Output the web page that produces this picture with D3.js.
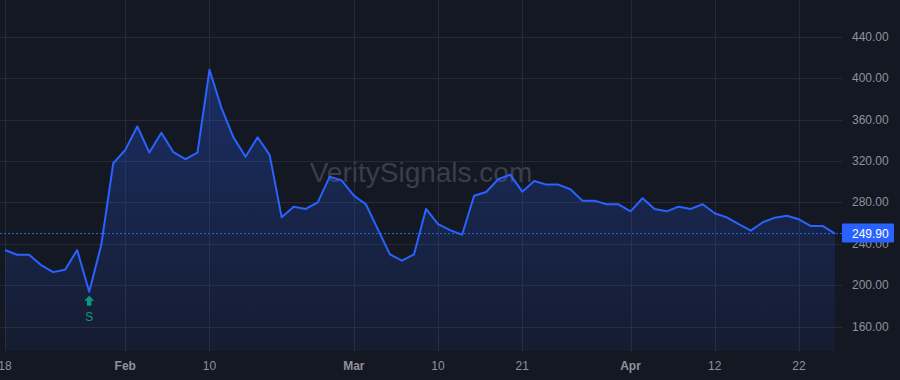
<!DOCTYPE html>
<html>
<head>
<meta charset="utf-8">
<script src="https://cdn.jsdelivr.net/npm/d3@7"></script>
<style>
  html, body { margin: 0; padding: 0; background: #141823; }
  svg { display: block; font-family: "Liberation Sans", Arial, sans-serif; }
  .tick-label { fill: #8f929b; font-size: 12px; }
  .month { font-weight: bold; }
</style>
</head>
<body>
<div id="chart"></div>
<script>
// Closing prices, one per trading day
var prices = [
  234.0, 229.5, 229.5, 219.5, 212.7, 215.0, 234.0, 193.7, 238.8, 317.8,
  330.7, 353.3, 328.1, 347.2, 328.5, 321.7, 328.1, 408.1, 371.0, 342.6,
  324.0, 342.9, 325.9, 265.6, 275.9, 273.7, 280.1, 304.9, 301.0, 286.5,
  278.2, 254.0, 229.8, 223.7, 229.8, 273.7, 259.1, 253.3, 248.8, 286.5,
  290.1, 302.4, 306.8, 290.4, 300.7, 297.2, 297.2, 292.7, 281.7, 281.7,
  278.2, 278.2, 271.4, 284.0, 273.7, 271.4, 275.9, 273.7, 278.2, 269.5,
  265.6, 259.1, 252.7, 260.8, 265.3, 267.2, 263.7, 257.2, 257.2, 249.9
]

// Bottom axis: bar index of each label and its text
var xTickIndex  = [0, 10, 17, 29, 36, 43, 52, 59, 66]
var xTickLabels = ["18", "Feb", "10", "Mar", "10", "21", "Apr", "12", "22"]
var monthLabels = ["Feb", "Mar", "Apr"]

// Right axis
var yTicks = [160, 200, 240, 280, 320, 360, 400, 440]

var lastPrice   = 249.90
var signalIndex = 7    // bar carrying the "S" marker

var width  = 900,
    height = 380,
    plotW  = 842, // right edge of the plot area
    plotH  = 351  // bottom edge of the plot area

var svg = d3.select("#chart").append("svg")
            .attr("width", width)
            .attr("height", height)

svg.append("rect")
   .attr("width", width)
   .attr("height", height)
   .attr("fill", "#141823")

var xScale = d3.scaleLinear().domain([0, prices.length - 1]).range([5, 835]),
    yScale = d3.scaleLinear().domain([160, 440]).range([326.7, 36.7])

// Grid
var grid = svg.append("g").attr("class", "grid")
grid.selectAll("line.h")
    .data(yTicks)
    .enter().append("line")
      .attr("x1", 0).attr("x2", plotW)
      .attr("y1", function (d) { return Math.round(yScale(d)) + 0.5 })
      .attr("y2", function (d) { return Math.round(yScale(d)) + 0.5 })
      .attr("stroke", "#262a36")
grid.selectAll("line.v")
    .data(xTickIndex)
    .enter().append("line")
      .attr("y1", 0).attr("y2", plotH)
      .attr("x1", function (d) { return Math.round(xScale(d)) + 0.5 })
      .attr("x2", function (d) { return Math.round(xScale(d)) + 0.5 })
      .attr("stroke", "#262a36")

// Watermark
svg.append("text")
   .attr("x", 421)
   .attr("y", 182)
   .attr("text-anchor", "middle")
   .attr("font-size", "28px")
   .attr("fill", "#3a3e49")
   .text("VeritySignals.com")

// Area under the line
var defs = svg.append("defs")
var grad = defs.append("linearGradient")
               .attr("id", "fill")
               .attr("x1", 0).attr("y1", 0)
               .attr("x2", 0).attr("y2", 1)
grad.append("stop").attr("offset", "0%").attr("stop-color", "#2962ff").attr("stop-opacity", 0.3)
grad.append("stop").attr("offset", "100%").attr("stop-color", "#2962ff").attr("stop-opacity", 0.06)

var area = d3.area()
  .x(function (d, i) { return xScale(i) })
  .y0(plotH)
  .y1(function (d) { return yScale(d) })
var line = d3.line()
  .x(function (d, i) { return xScale(i) })
  .y(function (d) { return yScale(d) })

svg.append("path")
   .datum(prices)
   .attr("d", area)
   .attr("fill", "url(#fill)")

// Last price line
svg.append("line")
   .attr("x1", 0).attr("x2", plotW)
   .attr("y1", yScale(lastPrice)).attr("y2", yScale(lastPrice))
   .attr("stroke", "#2962ff")
   .attr("stroke-width", 1)
   .attr("stroke-dasharray", "2,2")

svg.append("path")
   .datum(prices)
   .attr("d", line)
   .attr("fill", "none")
   .attr("stroke", "#2962ff")
   .attr("stroke-width", 2)
   .attr("stroke-linejoin", "round")

// Signal marker (up arrow + letter)
var sx = xScale(signalIndex),
    sy = yScale(prices[signalIndex])
svg.append("path")
   .attr("d", "M" + sx + "," + (sy + 4) +
              " l5,5 h-2.8 v5 h-4.4 v-5 h-2.8 z")
   .attr("fill", "#089981")
svg.append("text")
   .attr("x", sx)
   .attr("y", sy + 29)
   .attr("text-anchor", "middle")
   .attr("font-size", "12px")
   .attr("fill", "#089981")
   .text("S")

// Right axis labels
svg.selectAll("text.y")
   .data(yTicks)
   .enter().append("text")
     .attr("class", "tick-label")
     .attr("x", 852)
     .attr("y", function (d) { return yScale(d) + 4 })
     .text(function (d) { return d.toFixed(2) })

// Bottom axis labels
svg.selectAll("text.x")
   .data(xTickIndex)
   .enter().append("text")
     .attr("class", function (d, i) {
       return monthLabels.indexOf(xTickLabels[i]) >= 0 ? "tick-label month" : "tick-label"
     })
     .attr("x", function (d) { return xScale(d) })
     .attr("y", 370)
     .attr("text-anchor", "middle")
     .text(function (d, i) { return xTickLabels[i] })

// Last price tag
var ly = yScale(lastPrice)
svg.append("rect")
   .attr("x", 842)
   .attr("y", ly - 10)
   .attr("width", 52)
   .attr("height", 19)
   .attr("rx", 1)
   .attr("fill", "#2962ff")
svg.append("text")
   .attr("x", 852)
   .attr("y", ly + 4)
   .attr("font-size", "12px")
   .attr("fill", "#ffffff")
   .text(lastPrice.toFixed(2))
</script>
</body>
</html>
